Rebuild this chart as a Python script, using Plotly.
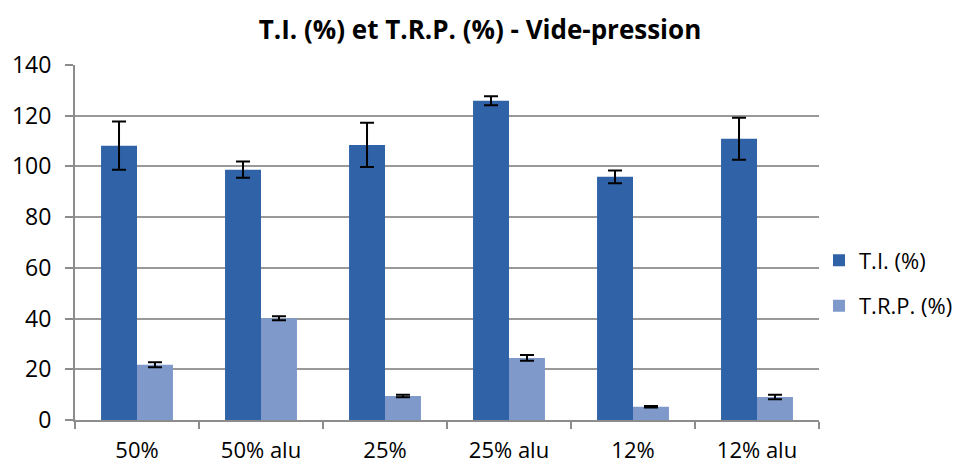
import plotly.graph_objects as go

categories = ["50%", "50% alu", "25%", "25% alu", "12%", "12% alu"]
ti_values = [108.2, 98.7, 108.5, 125.9, 95.9, 110.9]
ti_errors = [9.5, 3.2, 8.7, 1.8, 2.5, 8.3]
trp_values = [21.8, 40.1, 9.5, 24.5, 5.2, 9.1]
trp_errors = [1.0, 0.8, 0.5, 1.1, 0.3, 0.9]
series_names = ["T.I. (%)", "T.R.P. (%)"]

font_family = "Open Sans, Liberation Sans, Arial, sans-serif"

fig = go.Figure()
fig.add_trace(go.Bar(
    x=categories, y=ti_values, name=series_names[0], legendgroup="a",
    marker=dict(color="#2F62A6", line=dict(width=0)),
    error_y=dict(type="data", array=ti_errors, color="black", thickness=2, width=7),
))
fig.add_trace(go.Bar(
    x=categories, y=trp_values, name=series_names[1], legendgroup="b",
    marker=dict(color="#7F99CA", line=dict(width=0)),
    error_y=dict(type="data", array=trp_errors, color="black", thickness=2, width=7),
))

fig.update_layout(
    width=960, height=466,
    margin=dict(l=75, r=141, t=65, b=46, autoexpand=False),
    paper_bgcolor="white", plot_bgcolor="white",
    barmode="group", bargap=0.42, bargroupgap=0.0,
    title=dict(text="<b>T.I. (%) et T.R.P. (%) - Vide-pression</b>",
               x=0.5, xanchor="center", y=0.935, yanchor="middle",
               font=dict(family=font_family, size=26, color="black")),
    font=dict(family=font_family, size=23, color="black"),
    legend=dict(x=1.0, xanchor="left", y=0.385, yanchor="middle",
                tracegroupgap=14, font=dict(size=22)),
    showlegend=True,
)
fig.update_xaxes(
    type="category", showline=True, linecolor="#8c8c8c", linewidth=2,
    ticks="outside", tickson="boundaries", ticklen=7, tickcolor="#8c8c8c", tickwidth=2,
    showgrid=False, tickfont=dict(size=22), automargin=False, ticklabelstandoff=10,
)
fig.update_yaxes(
    range=[0, 140], dtick=20, showline=True, linecolor="#8c8c8c", linewidth=2,
    ticks="outside", ticklen=8, tickcolor="#8c8c8c", tickwidth=2,
    showgrid=True, gridcolor="#999999", gridwidth=1.5, zeroline=False,
    tickfont=dict(size=23), automargin=False, ticklabelstandoff=9,
)

fig.write_html("out.html", config={"displayModeBar": False},
               post_script="document.body.style.margin='0';document.body.style.overflow='hidden';")
